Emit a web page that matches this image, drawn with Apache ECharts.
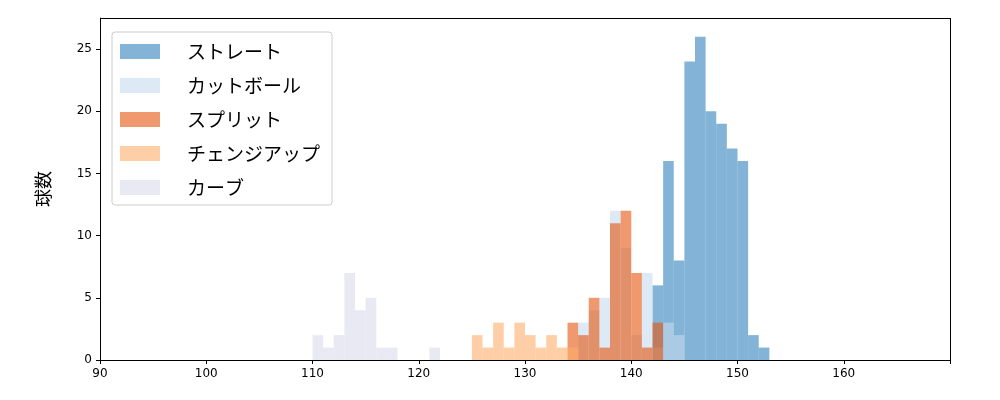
<!DOCTYPE html>
<html>
<head>
<meta charset="utf-8">
<script src="https://cdn.jsdelivr.net/npm/echarts@6/dist/echarts.min.js"></script>
<style>html,body{margin:0;background:#fff}#chart{width:1000px;height:400px}</style>
</head>
<body>
<div id="chart"></div>
<script>
// Bin starts (km/h, width 1) and counts per pitch type
var pitchNames = ['ストレート', 'カットボール', 'スプリット', 'チェンジアップ', 'カーブ'];
var pitchColors = ['#3182bd', '#c6dbef', '#e6550d', '#fdae6b', '#dadaeb'];

var straightBins = [142, 143, 144, 145, 146, 147, 148, 149, 150, 151, 152];
var straightCounts = [6, 16, 8, 24, 26, 20, 19, 17, 16, 2, 1];

var cutterBins = [135, 136, 137, 138, 139, 140, 141, 142, 143, 144];
var cutterCounts = [3, 4, 5, 12, 9, 2, 7, 1, 3, 2];

var splitBins = [134, 135, 136, 137, 138, 139, 140, 141, 142];
var splitCounts = [3, 2, 5, 1, 11, 12, 7, 1, 3];

var changeBins = [125, 126, 127, 128, 129, 130, 131, 132, 133, 134];
var changeCounts = [2, 1, 3, 1, 3, 2, 1, 2, 1, 1];

var curveBins = [110, 111, 112, 113, 114, 115, 116, 117, 121];
var curveCounts = [2, 1, 2, 7, 4, 5, 1, 1, 1];

var allBins = [straightBins, cutterBins, splitBins, changeBins, curveBins];
var allCounts = [straightCounts, cutterCounts, splitCounts, changeCounts, curveCounts];

var chart = echarts.init(document.getElementById('chart'));

function renderBin(params, api) {
    var p0 = api.coord([api.value(0), api.value(1)]);
    var p1 = api.coord([api.value(0) + 1, 0]);
    return {
        type: 'rect',
        shape: { x: p0[0], y: p0[1], width: p1[0] - p0[0], height: p1[1] - p0[1] },
        style: { fill: api.visual('color'), opacity: 0.6 }
    };
}

var series = pitchNames.map(function (name, i) {
    return {
        name: name,
        type: 'custom',
        renderItem: renderBin,
        itemStyle: { color: pitchColors[i], opacity: 0.6 },
        encode: { x: 0, y: 1 },
        data: allBins[i].map(function (b, j) { return [b, allCounts[i][j]]; }),
        z: 2 + i
    };
});

chart.setOption({
    animation: false,
    textStyle: { fontFamily: 'DejaVu Sans' },
    grid: { left: 100, right: 50, top: 18, bottom: 40 },
    xAxis: {
        type: 'value', min: 90, max: 170, interval: 10,
        axisLine: { lineStyle: { color: '#000' } },
        axisTick: { lineStyle: { color: '#000' }, length: 4 },
        axisLabel: { color: '#000', fontSize: 12, formatter: function (v) { return v === 170 ? '' : v; } },
        splitLine: { show: false }
    },
    yAxis: {
        type: 'value', min: 0, max: 27.5, interval: 5,
        name: '球数', nameLocation: 'middle', nameGap: 48, nameRotate: 90,
        nameTextStyle: { color: '#000', fontSize: 18, fontFamily: 'Noto Sans CJK JP' },
        axisLine: { show: true, lineStyle: { color: '#000' } },
        axisTick: { show: true, lineStyle: { color: '#000' }, length: 4 },
        axisLabel: { color: '#000', fontSize: 12, showMaxLabel: false },
        splitLine: { show: false }
    },
    legend: {
        orient: 'vertical', left: 112, top: 32,
        padding: [10, 12, 8, 8],
        backgroundColor: '#fff', borderColor: '#ccc', borderWidth: 1, borderRadius: 3,
        itemWidth: 40, itemHeight: 15, itemGap: 15,
        icon: 'rect',
        textStyle: { fontSize: 19, color: '#000', fontFamily: 'Noto Sans CJK JP', padding: [0, 0, 0, 22] },
        data: pitchNames.map(function (n, i) { return { name: n, itemStyle: { color: pitchColors[i], opacity: 0.6 } }; })
    },
    series: series.concat([{
        type: 'line', data: [], silent: true,
        markLine: {
            symbol: 'none', silent: true, label: { show: false },
            lineStyle: { color: '#000', type: 'solid', width: 1 },
            data: [[{ coord: [90, 27.5] }, { coord: [170, 27.5] }], [{ coord: [170, 0] }, { coord: [170, 27.5] }]]
        }
    }])
});
</script>
</body>
</html>
